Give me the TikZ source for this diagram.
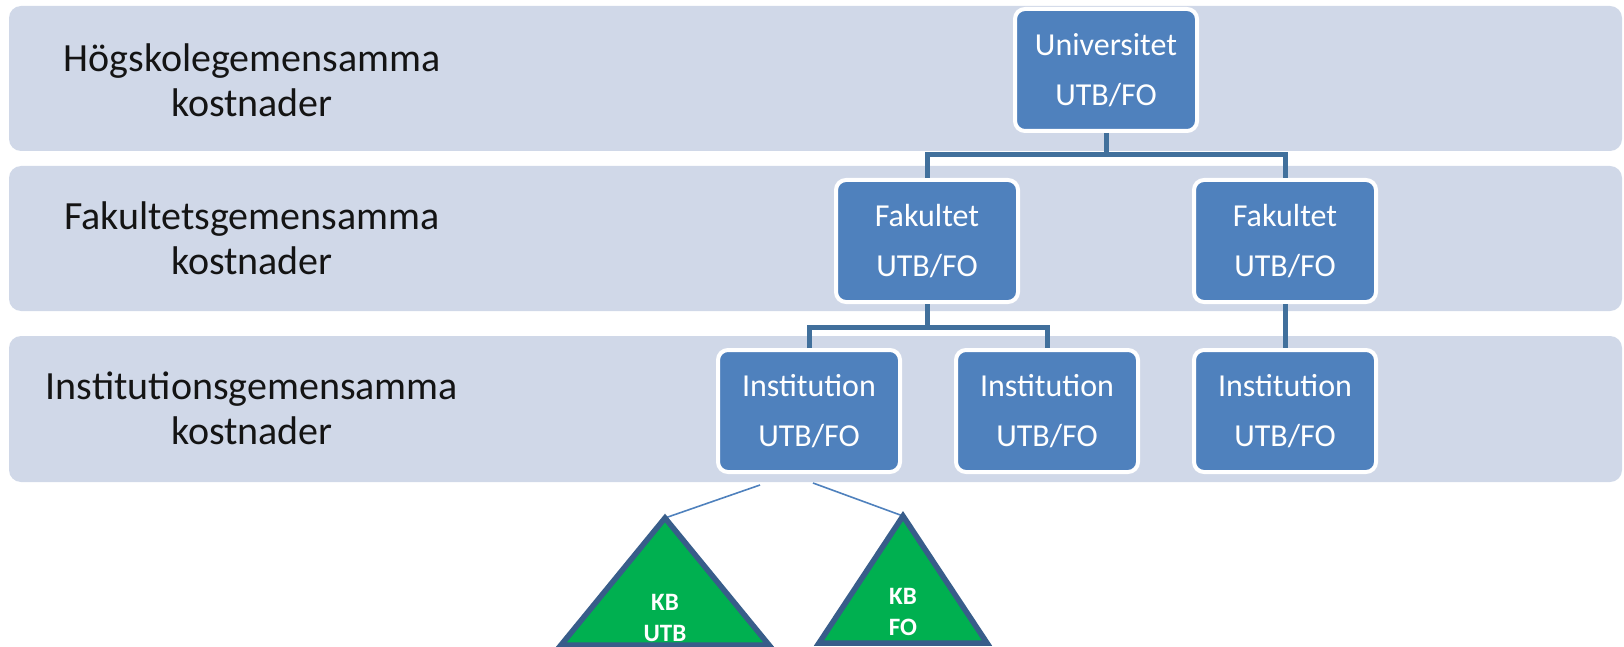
\documentclass[tikz,border=0pt]{standalone}
\usepackage{fontspec}
\setmainfont{Carlito}
\definecolor{bandc}{RGB}{208,216,232}
\definecolor{boxc}{RGB}{79,129,189}
\definecolor{connc}{RGB}{65,112,156}
\definecolor{trifill}{RGB}{0,176,80}
\definecolor{triborder}{RGB}{56,93,138}
\definecolor{labc}{RGB}{20,20,20}
\begin{document}
\begin{tikzpicture}[x=1pt,y=-1pt,
  band/.style={fill=bandc, rounded corners=12pt},
  lab/.style={align=center, text=labc, inner sep=0pt, font=\fontsize{40}{45}\selectfont},
  box/.style={draw=white, line width=4pt, fill=boxc, rounded corners=10pt,
    minimum width=182pt, minimum height=122pt, inner sep=0pt, text=white,
    align=center, font=\fontsize{32}{50}\selectfont},
  conn/.style={draw=connc, line width=5pt},
  thinline/.style={draw=boxc, line width=1.6pt},
  tri/.style={fill=trifill, draw=triborder, line width=5.5pt},
  trilab/.style={align=center, text=white, inner sep=0pt, font=\bfseries\fontsize{25}{31}\selectfont}]
\useasboundingbox (0,0) rectangle (1624,647);
% bands
\fill[band] (9,6) rectangle (1622,151);
\fill[band] (9,166) rectangle (1622,311);
\fill[band] (9,336) rectangle (1622,482);
% band labels
\node[lab] (l1) at (252,80) {Högskolegemensamma\\kostnader};
\node[lab] (l2) at (252,238) {Fakultetsgemensamma\\kostnader};
\node[lab] (l3) at (252,408) {Institutionsgemensamma\\kostnader};
% boxes
\node[box] (univ) at (1106,70) {Universitet\\UTB/FO};
\node[box] (fak1) at (927,241) {Fakultet\\UTB/FO};
\node[box] (fak2) at (1285,241) {Fakultet\\UTB/FO};
\node[box] (inst1) at (809,411) {Institution\\UTB/FO};
\node[box] (inst2) at (1047,411) {Institution\\UTB/FO};
\node[box] (inst3) at (1285,411) {Institution\\UTB/FO};
% connectors
\coordinate (j1) at (1106,155);
\coordinate (j2) at (927,327);
\draw[conn] (univ.south) -- (j1);
\draw[conn] (fak1.north) |- (j1) -| (fak2.north);
\draw[conn] (fak1.south) -- (j2);
\draw[conn] (inst1.north) |- (j2) -| (inst2.north);
\draw[conn] (fak2.south) -- (inst3.north);
% triangles
\coordinate (ta) at (665,518);
\coordinate (tb) at (903,516);
\coordinate (s1) at (760,485);
\coordinate (s2) at (813,483);
\draw[thinline] (s1) -- (ta);
\draw[thinline] (s2) -- (tb);
\draw[tri] (ta) -- (769,645) -- (561,645) -- cycle;
\draw[tri] (tb) -- (987,643) -- (819,643) -- cycle;
\node[trilab] (kb1) at (665,618) {KB\\UTB};
\node[trilab] (kb2) at (903,612) {KB\\FO};
\end{tikzpicture}
\end{document}
